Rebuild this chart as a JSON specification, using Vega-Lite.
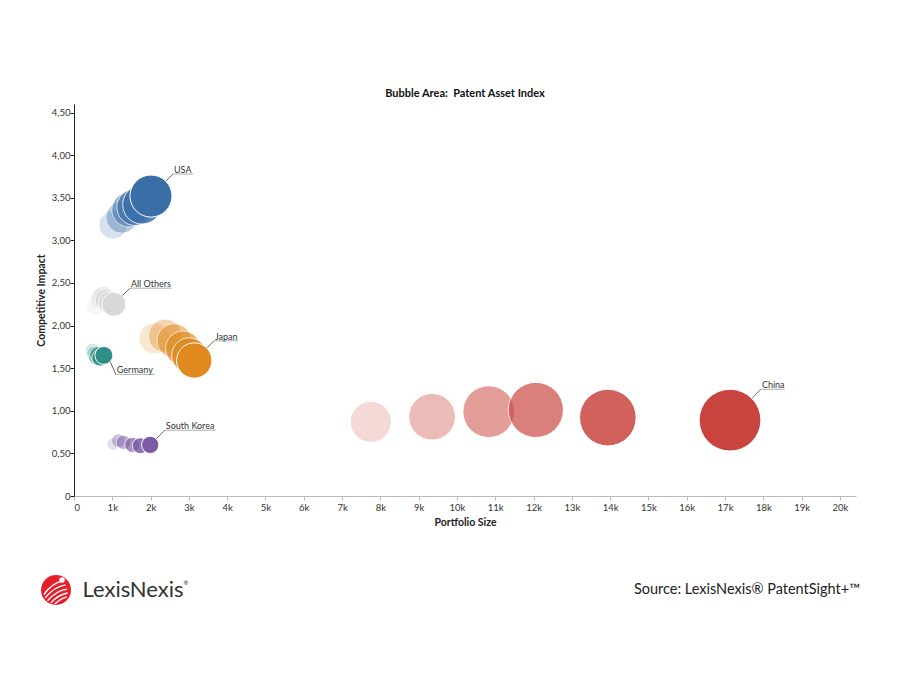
{
  "$schema": "https://vega.github.io/schema/vega-lite/v6.json",
  "padding": {"left": 36, "top": 88, "right": 0, "bottom": 0},
  "autosize": {"type": "pad"},
  "config": {
    "font": "Lato",
    "view": {"stroke": null},
    "axis": {
      "labelFont": "Lato", "labelFontSize": 9.5, "labelColor": "#333",
      "titleFont": "Lato", "titleFontSize": 10.5, "titleFontWeight": "bold", "titleColor": "#222",
      "grid": false, "tickSize": 4
    }
  },
  "datasets": {
    "patents": [
      {"country": "USA", "year": 2018, "portfolio_size": 1020, "competitive_impact": 3.18, "pai": 3244},
      {"country": "USA", "year": 2019, "portfolio_size": 1250, "competitive_impact": 3.27, "pai": 4088},
      {"country": "USA", "year": 2020, "portfolio_size": 1440, "competitive_impact": 3.36, "pai": 4838},
      {"country": "USA", "year": 2021, "portfolio_size": 1600, "competitive_impact": 3.39, "pai": 5424},
      {"country": "USA", "year": 2022, "portfolio_size": 1780, "competitive_impact": 3.42, "pai": 6088},
      {"country": "USA", "year": 2023, "portfolio_size": 2010, "competitive_impact": 3.52, "pai": 7075},
      {"country": "All Others", "year": 2018, "portfolio_size": 550, "competitive_impact": 2.22, "pai": 1221},
      {"country": "All Others", "year": 2019, "portfolio_size": 680, "competitive_impact": 2.31, "pai": 1571},
      {"country": "All Others", "year": 2020, "portfolio_size": 760, "competitive_impact": 2.34, "pai": 1778},
      {"country": "All Others", "year": 2021, "portfolio_size": 840, "competitive_impact": 2.30, "pai": 1932},
      {"country": "All Others", "year": 2022, "portfolio_size": 940, "competitive_impact": 2.27, "pai": 2134},
      {"country": "All Others", "year": 2023, "portfolio_size": 1040, "competitive_impact": 2.25, "pai": 2340},
      {"country": "Japan", "year": 2018, "portfolio_size": 2100, "competitive_impact": 1.85, "pai": 3885},
      {"country": "Japan", "year": 2019, "portfolio_size": 2380, "competitive_impact": 1.88, "pai": 4474},
      {"country": "Japan", "year": 2020, "portfolio_size": 2620, "competitive_impact": 1.82, "pai": 4768},
      {"country": "Japan", "year": 2021, "portfolio_size": 2850, "competitive_impact": 1.73, "pai": 4931},
      {"country": "Japan", "year": 2022, "portfolio_size": 3010, "competitive_impact": 1.65, "pai": 4967},
      {"country": "Japan", "year": 2023, "portfolio_size": 3140, "competitive_impact": 1.59, "pai": 4993},
      {"country": "Germany", "year": 2018, "portfolio_size": 480, "competitive_impact": 1.71, "pai": 821},
      {"country": "Germany", "year": 2019, "portfolio_size": 530, "competitive_impact": 1.67, "pai": 885},
      {"country": "Germany", "year": 2020, "portfolio_size": 580, "competitive_impact": 1.63, "pai": 945},
      {"country": "Germany", "year": 2021, "portfolio_size": 620, "competitive_impact": 1.66, "pai": 1029},
      {"country": "Germany", "year": 2022, "portfolio_size": 680, "competitive_impact": 1.62, "pai": 1102},
      {"country": "Germany", "year": 2023, "portfolio_size": 780, "competitive_impact": 1.65, "pai": 1287},
      {"country": "South Korea", "year": 2018, "portfolio_size": 1020, "competitive_impact": 0.61, "pai": 622},
      {"country": "South Korea", "year": 2019, "portfolio_size": 1160, "competitive_impact": 0.65, "pai": 754},
      {"country": "South Korea", "year": 2020, "portfolio_size": 1290, "competitive_impact": 0.63, "pai": 813},
      {"country": "South Korea", "year": 2021, "portfolio_size": 1520, "competitive_impact": 0.60, "pai": 912},
      {"country": "South Korea", "year": 2022, "portfolio_size": 1730, "competitive_impact": 0.59, "pai": 1021},
      {"country": "South Korea", "year": 2023, "portfolio_size": 1990, "competitive_impact": 0.60, "pai": 1194},
      {"country": "China", "year": 2018, "portfolio_size": 7750, "competitive_impact": 0.87, "pai": 6743},
      {"country": "China", "year": 2019, "portfolio_size": 9350, "competitive_impact": 0.93, "pai": 8696},
      {"country": "China", "year": 2020, "portfolio_size": 10830, "competitive_impact": 0.99, "pai": 10722},
      {"country": "China", "year": 2021, "portfolio_size": 12060, "competitive_impact": 1.01, "pai": 12181},
      {"country": "China", "year": 2022, "portfolio_size": 13940, "competitive_impact": 0.92, "pai": 12825},
      {"country": "China", "year": 2023, "portfolio_size": 17130, "competitive_impact": 0.89, "pai": 15246}
    ]
  },
  "center": true,
  "spacing": 45,
  "vconcat": [
    {
      "width": 782,
      "height": 392,
      "title": {"text": "Bubble Area:\u00a0 Patent Asset Index", "font": "Lato", "fontSize": 11, "fontWeight": "bold", "color": "#111", "offset": 5},
      "data": {"name": "patents"},
      "encoding": {
        "x": {
          "field": "portfolio_size", "type": "quantitative", "title": "Portfolio Size",
          "scale": {"domain": [0, 20420], "nice": false},
          "axis": {
            "values": [0, 1000, 2000, 3000, 4000, 5000, 6000, 7000, 8000, 9000, 10000, 11000, 12000, 13000, 14000, 15000, 16000, 17000, 18000, 19000, 20000],
            "labelExpr": "datum.value == 0 ? '0' : format(datum.value / 1000, 'd') + 'k'",
            "domainColor": "#bbb", "tickColor": "#bbb", "labelPadding": 2, "titlePadding": 6
          }
        },
        "y": {
          "field": "competitive_impact", "type": "quantitative", "title": "Competitive Impact",
          "scale": {"domain": [0, 4.6], "nice": false},
          "axis": {
            "values": [0, 0.5, 1, 1.5, 2, 2.5, 3, 3.5, 4, 4.5],
            "labelExpr": "datum.value == 0 ? '0' : replace(format(datum.value, '.2f'), '.', ',')",
            "domainColor": "#222", "tickColor": "#222", "labelPadding": 0, "titlePadding": 5
          }
        }
      },
      "layer": [
        {
          "mark": {"type": "circle", "stroke": "white", "strokeWidth": 1},
          "encoding": {
            "size": {"field": "pai", "type": "quantitative", "scale": {"domain": [0, 16000], "range": [0, 4000]}, "legend": null},
            "color": {
              "field": "country", "type": "nominal", "legend": null,
              "scale": {
                "domain": ["USA", "All Others", "Japan", "Germany", "South Korea", "China"],
                "range": ["#3a6ea7", "#d8d8d8", "#e0891f", "#2e8f86", "#7b5ba5", "#c9443e"]
              }
            },
            "opacity": {
              "field": "year", "type": "quantitative", "legend": null,
              "scale": {"domain": [2018, 2023], "range": [0.2, 1]}
            }
          }
        },
        {
          "transform": [{"filter": "datum.year == 2023"}],
          "mark": {
            "type": "rule", "color": "#444", "strokeWidth": 0.8,
            "xOffset": {"expr": "0.72*sqrt(datum.pai)/4"},
            "yOffset": {"expr": "(datum.country == 'Germany' ? 0.72 : -0.72)*sqrt(datum.pai)/4"},
            "x2Offset": {"expr": "sqrt(datum.pai)/4 + (datum.country == 'USA' ? 1 : datum.country == 'All Others' ? 4 : datum.country == 'Japan' ? 2 : datum.country == 'South Korea' ? 6 : datum.country == 'Germany' ? 3 : 0)"},
            "y2Offset": {"expr": "datum.country == 'Germany' ? sqrt(datum.pai)/4 + 10 : -(sqrt(datum.pai)/4 + (datum.country == 'USA' ? 1 : datum.country == 'All Others' ? 4 : datum.country == 'Japan' ? 2 : datum.country == 'South Korea' ? 6 : 0))"}
          },
          "encoding": {
            "x2": {"field": "portfolio_size"},
            "y2": {"field": "competitive_impact"}
          }
        },
        {
          "transform": [{"filter": "datum.year == 2023"}],
          "mark": {
            "type": "rule", "color": "#9a9a9a", "strokeWidth": 0.8,
            "xOffset": {"expr": "sqrt(datum.pai)/4 + (datum.country == 'USA' ? 1 : datum.country == 'All Others' ? 4 : datum.country == 'Japan' ? 2 : datum.country == 'South Korea' ? 6 : datum.country == 'Germany' ? 3 : 0)"},
            "yOffset": {"expr": "datum.country == 'Germany' ? sqrt(datum.pai)/4 + 10 : -(sqrt(datum.pai)/4 + (datum.country == 'USA' ? 1 : datum.country == 'All Others' ? 4 : datum.country == 'Japan' ? 2 : datum.country == 'South Korea' ? 6 : 0))"},
            "x2Offset": {"expr": "sqrt(datum.pai)/4 + (datum.country == 'USA' ? 1 : datum.country == 'All Others' ? 4 : datum.country == 'Japan' ? 2 : datum.country == 'South Korea' ? 6 : datum.country == 'Germany' ? 3 : 0) + (datum.country == 'USA' ? 20 : datum.country == 'All Others' ? 42 : datum.country == 'Japan' ? 24 : datum.country == 'Germany' ? 39 : datum.country == 'South Korea' ? 51 : 24)"},
            "y2Offset": {"expr": "datum.country == 'Germany' ? sqrt(datum.pai)/4 + 10 : -(sqrt(datum.pai)/4 + (datum.country == 'USA' ? 1 : datum.country == 'All Others' ? 4 : datum.country == 'Japan' ? 2 : datum.country == 'South Korea' ? 6 : 0))"}
          },
          "encoding": {
            "x2": {"field": "portfolio_size"},
            "y2": {"field": "competitive_impact"}
          }
        },
        {
          "transform": [{"filter": "datum.year == 2023"}],
          "mark": {
            "type": "text", "align": "left", "baseline": "alphabetic", "fontSize": 9, "color": "#333",
            "dx": {"expr": "sqrt(datum.pai)/4 + (datum.country == 'USA' ? 1 : datum.country == 'All Others' ? 4 : datum.country == 'Japan' ? 2 : datum.country == 'South Korea' ? 6 : datum.country == 'Germany' ? 3 : 0) + 1"},
            "dy": {"expr": "(datum.country == 'Germany' ? sqrt(datum.pai)/4 + 10 : -(sqrt(datum.pai)/4 + (datum.country == 'USA' ? 1 : datum.country == 'All Others' ? 4 : datum.country == 'Japan' ? 2 : datum.country == 'South Korea' ? 6 : 0))) - 1"}
          },
          "encoding": {
            "text": {"field": "country"}
          }
        }
      ]
    },
    {
      "spacing": 442,
      "hconcat": [
        {
          "spacing": 0,
          "hconcat": [
            {
              "width": 38,
              "height": 34,
              "data": {"values": [{"brand": "LexisNexis"}]},
              "layer": [
                {
                  "mark": {"type": "circle", "size": 900, "color": "#e4202a", "opacity": 1},
                  "encoding": {}
                },
                {
                  "mark": {
                    "type": "point", "size": 900, "filled": false, "stroke": "white", "strokeWidth": 1.4, "opacity": 1,
                    "shape": "M-0.8,0.3 Q-0.25,-0.5 0.5,-0.6 M-0.72,0.52 Q-0.12,-0.22 0.64,-0.34 M-0.56,0.72 Q0,0.04 0.74,-0.06 M-0.34,0.86 Q0.16,0.3 0.78,0.2 M-0.08,0.94 Q0.32,0.56 0.72,0.46"
                  },
                  "encoding": {}
                },
                {
                  "mark": {"type": "circle", "size": 30, "color": "white", "opacity": 1, "xOffset": 6, "yOffset": -10},
                  "encoding": {}
                }
              ]
            },
            {
              "width": 116,
              "height": 34,
              "data": {"values": [{"brand": "LexisNexis", "reg": "®"}]},
              "layer": [
                {
                  "mark": {"type": "text", "fontSize": 22, "color": "#333", "baseline": "middle"},
                  "encoding": {"text": {"field": "brand"}}
                },
                {
                  "mark": {"type": "text", "fontSize": 6, "color": "#333", "baseline": "middle", "dx": 53, "dy": -7},
                  "encoding": {"text": {"field": "reg"}}
                }
              ]
            }
          ]
        },
        {
          "width": 260,
          "height": 34,
          "data": {"values": [{"note": "Source: LexisNexis® PatentSight+™"}]},
          "mark": {"type": "text", "fontSize": 14.5, "color": "#222", "baseline": "middle", "dx": -16},
          "encoding": {"text": {"field": "note"}}
        }
      ]
    }
  ]
}
